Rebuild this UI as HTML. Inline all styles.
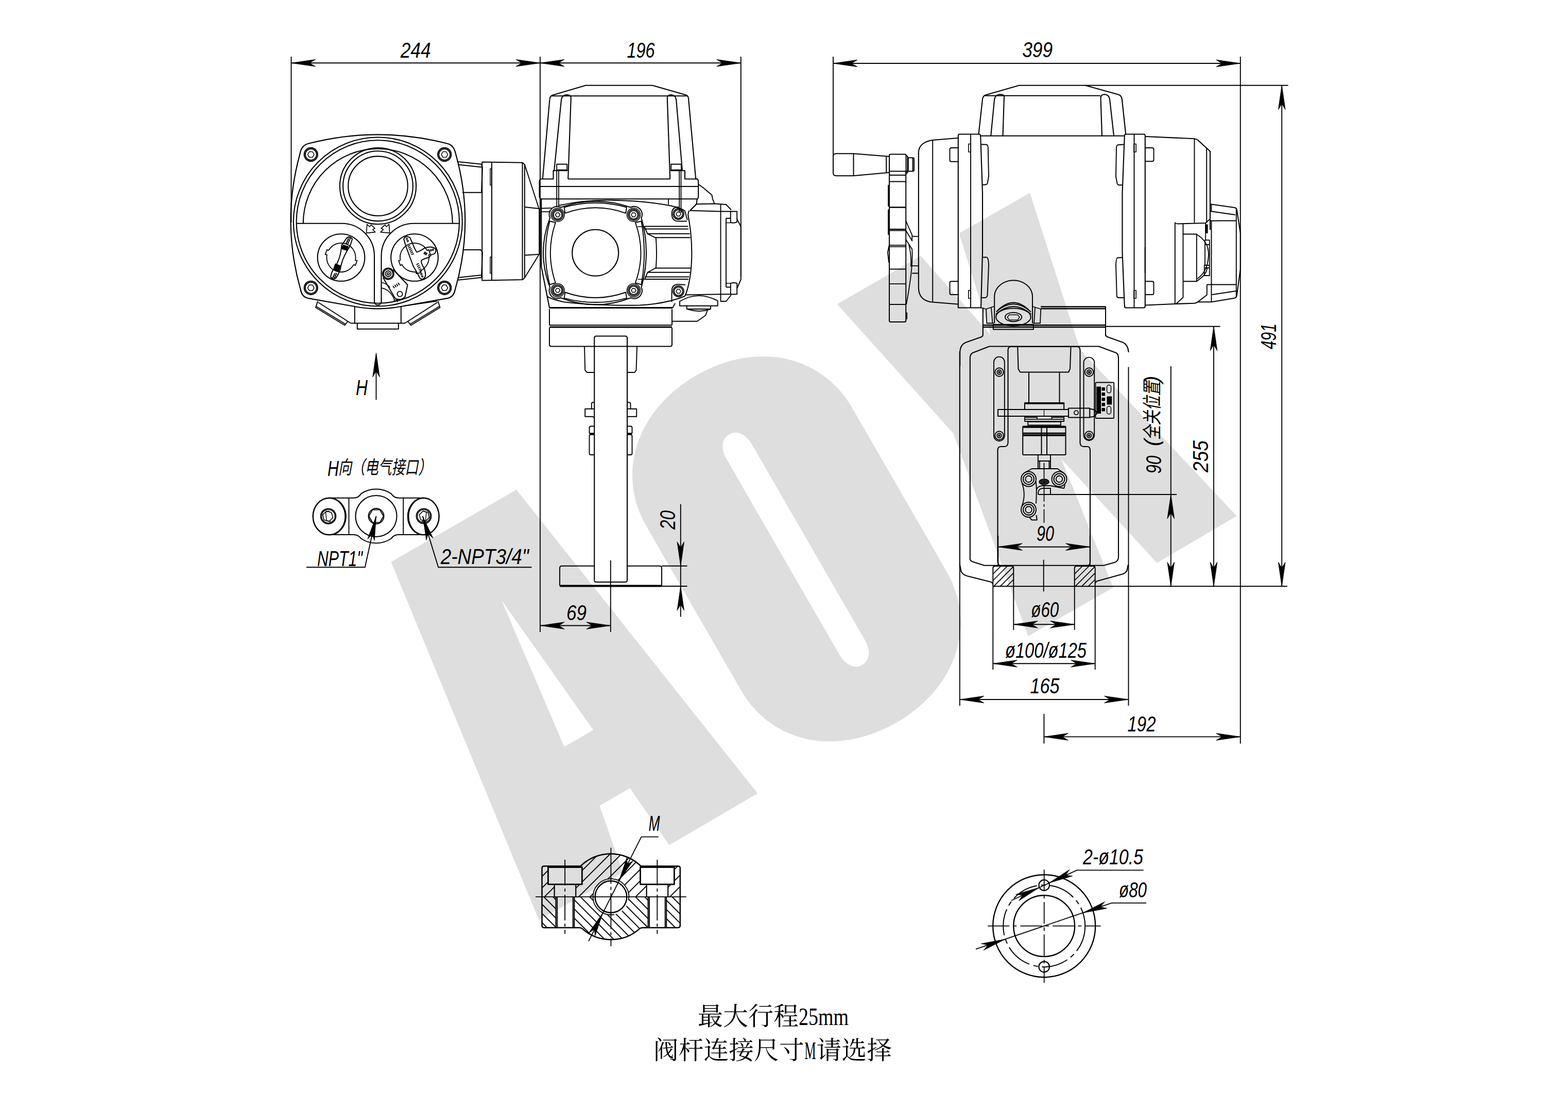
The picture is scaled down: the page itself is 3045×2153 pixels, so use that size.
<!DOCTYPE html>
<html><head><meta charset="utf-8"><title>Drawing</title>
<style>html,body{margin:0;padding:0;background:#fff;font-family:"Liberation Sans",sans-serif}svg{display:block}</style></head>
<body>
<svg xmlns="http://www.w3.org/2000/svg" width="3045" height="2153" viewBox="0 0 3045 2153" fill="none" stroke="#000" stroke-linecap="butt" stroke-linejoin="round">
<path d="M759.5 1091L1003 950.8L1471.3 1540.3L1299.6 1640.7L1223.3 1530L1164.3 1564.3L1209.7 1694L1046.6 1786.3ZM973.8 1165L1095.7 1449.7L1152.3 1417.3Z" fill="#dedede" fill-rule="evenodd" stroke="none"/>
<path transform="translate(1046.6 1786.3) rotate(-30)" d="M563 -558C563 -676.9 659.8 -763 793.5 -763C927.2 -763 1024 -676.9 1024 -558L1024 -190C1024 -71.1 927.2 15 793.5 15C659.8 15 563 -71.1 563 -190ZM763 -592C763 -616 774.4 -632 791.5 -632C808.6 -632 820 -616 820 -592L820 -155C820 -131 808.6 -115 791.5 -115C774.4 -115 763 -131 763 -155Z" fill="#dedede" fill-rule="evenodd" stroke="none"/>
<path d="M1625.8 590.5L1788 496.8L1923.8 650L1862.5 453L2000 374.5L2097.5 678.8L2401.7 1001.7L2246.7 1092.7L2061.2 891.2L2161.7 1140.7L1996.7 1235L1851.2 841.2Z" fill="#dedede" stroke="none"/>
<path d="M598.8 278.8Q733.8 243.8 868.8 278.8Q881.2 281.2 885 298.8Q922 430.5 883.8 562.5Q881.2 576.2 870 578.8L778.8 595Q733.8 603.8 688.8 595L597.5 578.8Q586.2 576.2 583.8 562.5Q546 430.5 582.5 298.8Q585 282.5 598.8 278.8Z" fill="none" stroke-width="2.2"/>
<circle cx="733.8" cy="430.5" r="164" fill="none" stroke-width="2.1"/>
<circle cx="733.8" cy="430.5" r="158.2" fill="none" stroke-width="2.1"/>
<path d="M588.8 433.8A145 145 0 1 1 878.8 433.8" fill="none" stroke-width="2.1"/>
<path d="M575.5 433.8H663.8A63.2 63.2 0 0 1 727 497V586.2A6.8 6.8 0 0 0 740.5 586.2V497A63.2 63.2 0 0 1 803.8 433.8H892" fill="none" stroke-width="2.1"/>
<circle cx="734" cy="361.2" r="74.1" fill="none" stroke-width="2.1"/>
<circle cx="734" cy="361.2" r="67.9" fill="none" stroke-width="2.1"/>
<circle cx="734" cy="361.2" r="57.8" fill="none" stroke-width="2.1"/>
<path d="M712.8 435.4L717.7 440.2L720.7 436.6L728 443.3L723.8 445.7L728.7 450.6L711.6 452.4Z" fill="none" stroke-width="1.6"/>
<path d="M755.5 435.4L750.6 440.2L747.6 436.6L740.2 443.3L744.5 445.7L739 450.6L756.7 452.4Z" fill="none" stroke-width="1.6"/>
<circle cx="662.5" cy="500" r="45.8" fill="none" stroke-width="2.1"/>
<circle cx="805" cy="500" r="45.8" fill="none" stroke-width="2.1"/>
<path d="M638 486.4A28 28 0 0 1 690 505.4L693.4 506L690 515.3L687 513.6M687 513.6A28 28 0 0 1 635 494.6L631.6 494L635 484.7L638 486.4" fill="none" stroke-width="1.8"/>
<path d="M832.5 494.6A28 28 0 0 1 816.4 525.6L817.8 528.8L808.3 531.3L807.9 527.9M807.9 527.9A28 28 0 0 1 780.5 513.6L777.5 515.3L774.1 506L777.5 505.4M777.5 505.4A28 28 0 0 1 829.5 486.4L832.5 484.7L835.9 494L832.5 494.6" fill="none" stroke-width="1.8"/>
<path d="M672 463.8Q678 455.5 684.1 463.8Q681.7 473.8 678 480.5Q663.4 503 661 522.6Q657.3 532.3 653.7 537.8Q648.2 545.1 642.1 537.8Q643.3 528.7 648.8 521.3Q661.6 503 663.4 476.2Q668.3 470.1 672 463.8Z" fill="none" stroke-width="2"/>
<path d="M666.5 475.6L676.2 478.7L673.2 486L663.4 482.9ZM651.2 512.2L661 515.9L657.3 526.8L647.6 523.2Z" fill="#000" stroke-width="1.5"/>
<ellipse cx="678" cy="463.8" rx="2.7" ry="1.5" fill="none" stroke-width="1.5" transform="rotate(-20 678 463.8)"/>
<ellipse cx="676.2" cy="467.7" rx="2.7" ry="1.5" fill="none" stroke-width="1.5" transform="rotate(-20 676.2 467.7)"/>
<ellipse cx="674.4" cy="471.6" rx="2.7" ry="1.5" fill="none" stroke-width="1.5" transform="rotate(-20 674.4 471.6)"/>
<ellipse cx="651.2" cy="532.3" rx="2.7" ry="1.5" fill="none" stroke-width="1.5" transform="rotate(-20 651.2 532.3)"/>
<ellipse cx="649.4" cy="536.2" rx="2.7" ry="1.5" fill="none" stroke-width="1.5" transform="rotate(-20 649.4 536.2)"/>
<ellipse cx="647.6" cy="539.6" rx="2.7" ry="1.5" fill="none" stroke-width="1.5" transform="rotate(-20 647.6 539.6)"/>
<path d="M784.1 464Q787.8 455.5 796.3 461.6L801.2 472.6Q806.1 486 809.8 489.6Q818.3 486 825.6 481.1Q837.8 477.4 845.1 482.3Q848.8 488.4 842.7 493.3Q836.6 493.3 834.1 499.4Q823.2 501.8 818.3 505.5Q817.1 510.4 823.2 520.1Q826.8 528.7 826.2 535.4Q823.2 544.5 815.9 540.9Q809.8 528.7 802.4 516.5Q797.6 503 793.9 493.3Q787.8 478.7 784.1 464Z" fill="none" stroke-width="2"/>
<path d="M796.3 476.3L791.5 478.6" stroke-width="1.9"/>
<path d="M797.8 479.5L792.9 481.7" stroke-width="1.9"/>
<path d="M799.3 482.7L794.4 484.9" stroke-width="1.9"/>
<path d="M800.7 485.8L795.9 488.1" stroke-width="1.9"/>
<path d="M802.2 489L797.3 491.2" stroke-width="1.9"/>
<path d="M803.7 492.2L798.8 494.4" stroke-width="1.9"/>
<path d="M825.9 488.6L822.9 493.1" stroke-width="1.9"/>
<path d="M827.7 489.8L824.7 494.3" stroke-width="1.9"/>
<path d="M829.5 491.1L826.6 495.5" stroke-width="1.9"/>
<path d="M813.4 511.7L808.5 513.9" stroke-width="1.9"/>
<path d="M814.9 515L810.1 517.3" stroke-width="1.9"/>
<path d="M816.5 518.4L811.6 520.6" stroke-width="1.9"/>
<path d="M818 521.8L813.1 524" stroke-width="1.9"/>
<path d="M819.5 525.1L814.6 527.3" stroke-width="1.9"/>
<circle cx="790" cy="463.4" r="1.5" fill="none" stroke-width="1.4"/>
<circle cx="791.7" cy="467.7" r="1.5" fill="none" stroke-width="1.4"/>
<circle cx="836.6" cy="486" r="1.5" fill="none" stroke-width="1.4"/>
<circle cx="840.9" cy="484.8" r="1.5" fill="none" stroke-width="1.4"/>
<circle cx="818.3" cy="532.3" r="1.5" fill="none" stroke-width="1.4"/>
<circle cx="820.1" cy="536.6" r="1.5" fill="none" stroke-width="1.4"/>
<circle cx="753.9" cy="531.5" r="11" fill="none" stroke-width="1.8"/>
<circle cx="753.9" cy="531.5" r="9.1" fill="none" stroke-width="1.8"/>
<circle cx="753.9" cy="531.5" r="5.5" fill="none" stroke-width="1.8"/>
<circle cx="753.9" cy="531.5" r="2.2" fill="none" stroke-width="1.8"/>
<path d="M743.9 539L767.1 578.7Q773.2 583.5 782.9 579.3L786.6 576.2L791.5 553L763.4 523.2" fill="none" stroke-width="2"/>
<circle cx="776.5" cy="570.7" r="5.1" fill="none" stroke-width="1.8"/>
<path d="M763.2 555L766.1 559.6" stroke-width="1.9"/>
<path d="M766.5 553L769.3 557.6" stroke-width="1.9"/>
<path d="M769.7 551L772.6 555.5" stroke-width="1.9"/>
<path d="M773 548.9L775.8 553.5" stroke-width="1.9"/>
<path d="M740.2 548.2Q750 549.4 757.3 557.9M741.5 559.1Q753.7 561.6 761 572.6T764.6 586M764.6 582.3H772V586.6" fill="none" stroke-width="1.6"/>
<circle cx="603.8" cy="300" r="13.2" fill="none" stroke-width="1.9"/>
<circle cx="603.8" cy="300" r="11" fill="none" stroke-width="1.9"/>
<polygon points="610,300 606.9,305.4 600.6,305.4 597.5,300 600.6,294.6 606.9,294.6" stroke-width="1.5"/>
<circle cx="863.2" cy="300" r="13.2" fill="none" stroke-width="1.9"/>
<circle cx="863.2" cy="300" r="11" fill="none" stroke-width="1.9"/>
<polygon points="869.5,300 866.4,305.4 860.1,305.4 857,300 860.1,294.6 866.4,294.6" stroke-width="1.5"/>
<circle cx="603.8" cy="558.8" r="13.2" fill="none" stroke-width="1.9"/>
<circle cx="603.8" cy="558.8" r="11" fill="none" stroke-width="1.9"/>
<polygon points="610,558.8 606.9,564.2 600.6,564.2 597.5,558.8 600.6,553.3 606.9,553.3" stroke-width="1.5"/>
<circle cx="863.2" cy="558.8" r="13.2" fill="none" stroke-width="1.9"/>
<circle cx="863.2" cy="558.8" r="11" fill="none" stroke-width="1.9"/>
<polygon points="869.5,558.8 866.4,564.2 860.1,564.2 857,558.8 860.1,553.3 866.4,553.3" stroke-width="1.5"/>
<path d="M688.8 595V627.5M778.8 595V627.5M681.2 627.5H786.2M693.8 627.5V638.8H773.8V627.5" fill="none" stroke-width="2"/>
<path d="M617 584.5L613 597L669.5 631.5L675 624.5M618 587L681.2 627.5M614.5 595L670.5 629" fill="none" stroke-width="1.9"/>
<path d="M850.5 584.5L854.5 597L798 631.5L792.5 624.5M849.5 587L786.2 627.5M853 595L797 629" fill="none" stroke-width="1.9"/>
<path d="M785 593.8L848.8 584.5" fill="none" stroke-width="1.8"/>
<path d="M887.5 313.8L935 318.8L936.8 325L935 373.8H898M889 319.5L935.2 324.5" fill="none" stroke-width="2"/>
<path d="M898.8 485H933.8L936.8 490L935 538.8L888.8 543.8M935.2 534L889.5 539" fill="none" stroke-width="2"/>
<path d="M936.2 314.5L1015 315.8L1018.8 319.5V539.5L1015 543L936.2 544.5ZM955 315V544M1014.5 316V542.8" fill="none" stroke-width="2"/>
<path d="M952 327.5H954.5V359.5H952ZM952 498.8H954.5V530.5H952Z" fill="none" stroke-width="1.5"/>
<path d="M1019 320L1046.2 403.8M1018.8 402L1047.2 405V493.8L1018.8 495.5M1019 539L1046.2 495" fill="none" stroke-width="1.9"/>
<path d="M1067.5 192.5Q1068 186.2 1073.8 184.5L1137.5 165.8H1267L1332.5 184.5Q1336.5 186.2 1337 191.2" fill="none" stroke-width="2.1"/>
<path d="M1067.5 192.5L1053.8 347.5M1337 191.2L1351.2 347.5" fill="none" stroke-width="2.1"/>
<path d="M1071.2 186.2H1333.8" fill="none" stroke-width="2.1"/>
<path d="M1076.2 331.2L1090 193.8Q1091.2 184.5 1100.5 184Q1108.8 184 1108.8 190L1103.2 347.5" fill="none" stroke-width="2.1"/>
<path d="M1325 331.2L1313.2 193.8Q1312 184.5 1303.8 184Q1295.8 184 1295.8 190L1301.2 347.5" fill="none" stroke-width="2.1"/>
<path d="M1103.2 347.5H1301.2" fill="none" stroke-width="2.1"/>
<path d="M1081.2 318.8H1101.2V330H1081.2ZM1303.2 318.8H1323V330H1303.2Z" fill="none" stroke-width="1.9"/>
<path d="M1051.2 347.5H1074.5V331.2H1102.5M1302 331.2H1330V347.5H1355" fill="none" stroke-width="2.1"/>
<path d="M1051.2 347.5Q1047.5 348 1047.5 352.5V380Q1047.5 386.2 1051.2 386.2H1353.8Q1356.2 386.2 1356.2 380V352.5Q1356.2 348 1352.5 347.5" fill="none" stroke-width="2.1"/>
<path d="M1047.5 362H1356.2" fill="none" stroke-width="2.1"/>
<path d="M1081.2 331.2V400M1085 331.2V401.2M1319.2 331.2V412.5M1322.5 331.2V413" fill="none" stroke-width="1.8"/>
<path d="M1051.2 386.2V517.5L1067 597.5" fill="none" stroke-width="2.1"/>
<path d="M1353.8 386.2L1352.5 396.2L1340 408.8" fill="none" stroke-width="2.1"/>
<path d="M1298 386.2V397.5" fill="none" stroke-width="1.8"/>
<path d="M1051.2 404.5L1071.2 403.8M1051.2 411.2H1068.8" fill="none" stroke-width="1.8"/>
<path d="M1086.2 398.8Q1135 387.5 1190 388.8Q1255 390 1305 400Q1322.5 403.8 1330 409.5L1334.8 427.2" fill="none" stroke-width="1.9"/>
<path d="M1356.2 357.5L1366.2 365L1382.5 378.8L1383.8 386.2L1387.5 395.5" fill="none" stroke-width="1.9"/>
<path d="M1068 423A15.5 15.5 0 0 1 1089 402.5Q1156.8 379 1224.5 402.5A15.5 15.5 0 0 1 1245.5 423Q1264.5 490.2 1245.5 557.8A15.5 15.5 0 0 1 1224.5 578.2Q1156.8 604.8 1089 578.2A15.5 15.5 0 0 1 1068 557.8Q1042 490.2 1068 423Z" fill="none" stroke-width="2"/>
<path d="M1095.5 402.5Q1156.2 385 1217 402.5L1215 413.8Q1156.2 392.8 1097.5 413.8Z" fill="none" stroke-width="1.9"/>
<path d="M1095.5 578.8Q1156.2 595.2 1217 578.8L1215 567.5Q1156.2 588.5 1097.5 567.5Z" fill="none" stroke-width="1.9"/>
<path d="M1067.5 429.5Q1051.5 490.8 1067.5 552.5L1078.8 549.2Q1058.8 490.8 1078.8 432Z" fill="none" stroke-width="1.9"/>
<path d="M1245.5 429.5Q1256.5 490.8 1245.5 552.5L1233.8 549.2Q1255.2 490.8 1233.8 432Z" fill="none" stroke-width="1.9"/>
<circle cx="1083" cy="417" r="13" fill="none" stroke-width="1.6"/>
<circle cx="1230.5" cy="417" r="13" fill="none" stroke-width="1.6"/>
<circle cx="1083" cy="563.8" r="13" fill="none" stroke-width="1.6"/>
<circle cx="1230.5" cy="563.8" r="13" fill="none" stroke-width="1.6"/>
<circle cx="1083" cy="417" r="10.5" fill="none" stroke-width="1.8"/>
<circle cx="1083" cy="417" r="8.2" fill="none" stroke-width="1.8"/>
<polygon points="1087.5,417 1085.2,420.9 1080.8,420.9 1078.5,417 1080.8,413.1 1085.2,413.1" stroke-width="1.5"/>
<circle cx="1230.5" cy="417" r="10.5" fill="none" stroke-width="1.8"/>
<circle cx="1230.5" cy="417" r="8.2" fill="none" stroke-width="1.8"/>
<polygon points="1235,417 1232.8,420.9 1228.2,420.9 1226,417 1228.2,413.1 1232.8,413.1" stroke-width="1.5"/>
<circle cx="1083" cy="563.8" r="10.5" fill="none" stroke-width="1.8"/>
<circle cx="1083" cy="563.8" r="8.2" fill="none" stroke-width="1.8"/>
<polygon points="1087.5,563.8 1085.2,567.6 1080.8,567.6 1078.5,563.8 1080.8,559.9 1085.2,559.9" stroke-width="1.5"/>
<circle cx="1230.5" cy="563.8" r="10.5" fill="none" stroke-width="1.8"/>
<circle cx="1230.5" cy="563.8" r="8.2" fill="none" stroke-width="1.8"/>
<polygon points="1235,563.8 1232.8,567.6 1228.2,567.6 1226,563.8 1228.2,559.9 1232.8,559.9" stroke-width="1.5"/>
<circle cx="1317.5" cy="415.5" r="10.5" fill="none" stroke-width="1.8"/>
<circle cx="1317.5" cy="415.5" r="8.2" fill="none" stroke-width="1.8"/>
<polygon points="1322,415.5 1319.8,419.4 1315.2,419.4 1313,415.5 1315.2,411.6 1319.8,411.6" stroke-width="1.5"/>
<circle cx="1317.5" cy="565.5" r="10.5" fill="none" stroke-width="1.8"/>
<circle cx="1317.5" cy="565.5" r="8.2" fill="none" stroke-width="1.8"/>
<polygon points="1322,565.5 1319.8,569.4 1315.2,569.4 1313,565.5 1315.2,561.6 1319.8,561.6" stroke-width="1.5"/>
<circle cx="1156.2" cy="490.8" r="45" fill="none" stroke-width="2.1"/>
<path d="M1317.5 402Q1304.5 402 1304.5 415.5Q1305 429.5 1317.5 429.5L1333.8 429.5" fill="none" stroke-width="1.9"/>
<path d="M1317.5 552Q1304.5 552 1304.5 565.5V586.2" fill="none" stroke-width="1.9"/>
<path d="M1317.5 552L1331.2 553" fill="none" stroke-width="1.8"/>
<path d="M1251.2 439.5H1336.2M1252 444.5H1337M1257.5 453.8H1339.5M1272.5 461.2H1340.5M1272.5 520.5H1341.2M1257.5 528.8H1340M1252.5 537.5H1338M1252 542H1337" fill="none" stroke-width="1.9"/>
<path d="M1251.2 440L1257.5 453.8L1273.8 462Q1276.2 490.8 1273.8 520L1257.5 528.8L1252.5 541.2" fill="none" stroke-width="1.9"/>
<path d="M1237.5 440L1251.2 440M1238.8 542.5L1252 542" fill="none" stroke-width="1.6"/>
<path d="M1338.5 408.8Q1336.5 412.5 1336.2 417Q1339 432.5 1341.2 450Q1345.5 490.8 1341.2 530Q1337 560 1330 575" fill="none" stroke-width="2"/>
<path d="M1340 408.8L1400 410.5H1420M1340 408.8L1352.5 396.2L1387.5 395.5L1410 397L1420 407.5M1399.5 396.5V585H1410L1420 572.5M1410 423.8V557.5M1410 423.8H1418.8M1410 557.5H1418.8" fill="none" stroke-width="1.9"/>
<path d="M1418.8 410.5H1431.2V431.2Q1425 433.8 1418.8 432ZM1418.8 550Q1425 548 1431.2 550V571.2H1418.8Z" fill="none" stroke-width="1.9"/>
<path d="M1410 432.5H1418.8M1410 550H1418.8" fill="none" stroke-width="1.6"/>
<path d="M1431.2 425L1438.8 440V542.5L1431.2 560" fill="none" stroke-width="1.9"/>
<path d="M1330 572.5L1400 571.2H1418.8" fill="none" stroke-width="1.9"/>
<path d="M1062.5 575Q1067.5 580 1095 586.2Q1155 593.8 1242.5 592.5Q1292.5 590 1330 575" fill="none" stroke-width="1.9"/>
<path d="M1067 597.5H1306.2" fill="none" stroke-width="3.2"/>
<path d="M1067 600V631.2M1305 600V631.2M1067 631.2H1305" fill="none" stroke-width="2"/>
<path d="M1067 635H1305" fill="none" stroke-width="3.2"/>
<path d="M1067 636.2V668.8Q1067 672.5 1070.8 672.5H1301.2Q1305 672.5 1305 668.8V636.2" fill="none" stroke-width="2"/>
<path d="M1306.2 597.5L1311.2 588.8M1305 623.8H1353.8L1370 612.5L1373.8 602.5" fill="none" stroke-width="1.9"/>
<path d="M1320 593.8V585Q1355 563.8 1393.8 583.8V593.8ZM1333.8 593.8V600H1380V593.8M1336.2 600.5Q1357.5 607.5 1378.8 600.5" fill="none" stroke-width="1.9"/>
<path d="M1154.2 1126.2V656.2Q1154.2 652.5 1158 652.5H1214.2Q1218 652.5 1218 656.2V1126.2" fill="none" stroke-width="2.1"/>
<path d="M1135 673L1136.2 718.8L1140 723H1154.2M1237 673L1235.5 718.8L1232.5 723H1218" fill="none" stroke-width="1.9"/>
<path d="M1154.2 1126.2Q1154.2 1130 1158 1130H1214.2Q1218 1130 1218 1126.2" fill="none" stroke-width="2.1"/>
<path d="M1154.2 793.8H1136.2V808.8H1151.2L1154.2 811.2M1154.2 781.2H1151.2Q1148.8 781.2 1148.8 784.5V793.8" fill="none" stroke-width="1.9"/>
<path d="M1218 793.8H1236.2V808.8H1218M1218 781.2H1221.2Q1224.5 781.2 1224.5 784.5V793.8" fill="none" stroke-width="1.9"/>
<path d="M1154.2 827.5H1147.5Q1144.5 827.5 1144.5 830.5V840Q1144.5 842.5 1147.5 842.5H1154.2M1154.2 843.8H1147.5Q1144.5 843.8 1144.5 846.8V880Q1144.5 883 1147.5 883H1154.2M1145.5 841.2H1154.2" fill="none" stroke-width="1.9"/>
<path d="M1218 827.5H1224.5Q1227.5 827.5 1227.5 830.5V840Q1227.5 842.5 1224.5 842.5H1218M1218 843.8H1224.5Q1227.5 843.8 1227.5 846.8V880Q1227.5 883 1224.5 883H1218M1218 841.2H1227" fill="none" stroke-width="1.9"/>
<path d="M1154.2 1098.8H1091.2Q1087 1098.8 1087 1103V1137M1218 1098.8H1281.2Q1285 1099.2 1285 1103V1137.5" fill="none" stroke-width="2"/>
<path d="M1087 1137.5H1285" fill="none" stroke-width="3.8"/>
<path d="M1900.5 260.5L1908 192.5Q1908.8 186.2 1913.8 184.5L1979.2 165.8H2106.5" fill="none" stroke-width="2.1"/>
<path d="M2107.5 165.8L2172.5 183.8Q2178 186.2 2178.8 192.5L2186.2 260.5" fill="none" stroke-width="2.1"/>
<path d="M1912 185.8H2136.8" fill="none" stroke-width="2.1"/>
<path d="M1924.2 263.8L1931.2 192.5Q1933 183.8 1941.2 183.2Q1950 183.2 1950 187.5L1947.5 263.8" fill="none" stroke-width="2.1"/>
<path d="M2140 263.8L2137.5 190Q2137.5 183.2 2145.5 183.2Q2153.5 183.8 2155 192.5L2163 263.8" fill="none" stroke-width="2.1"/>
<path d="M1904.2 263.8H2183" fill="none" stroke-width="2.1"/>
<path d="M1783.8 295Q1785 276.2 1811.2 272L1860 268" fill="none" stroke-width="2.1"/>
<path d="M1783.8 295L1783.8 560" stroke-width="2.1"/>
<path d="M1783.8 560Q1785 582.5 1807.5 586.2L1860 590.5" fill="none" stroke-width="2.1"/>
<path d="M1811.2 272L1811.2 585.8" stroke-width="1.9"/>
<path d="M1860.8 597.5V263.8Q1860.8 260.5 1863.8 260.5H1901.2Q1904 260.5 1904.2 263.8L1908 375V490L1905 597.5Z" fill="none" stroke-width="2.1"/>
<path d="M1885 260.5L1885 597.5" stroke-width="1.9"/>
<path d="M1860.8 287H1847.5Q1844.5 287 1844.5 290V310.8Q1844.5 313.8 1847.5 313.8H1860.8" fill="none" stroke-width="1.9"/>
<path d="M1860.8 546.2H1847.5Q1844.5 546.2 1844.5 549.2V569Q1844.5 572 1847.5 572H1860.8" fill="none" stroke-width="1.9"/>
<path d="M1880.8 279.5H1885V295H1880.8Z" fill="none" stroke-width="1.6"/>
<path d="M1880.8 563.8H1885V579.2H1880.8Z" fill="none" stroke-width="1.6"/>
<path d="M1905.5 280.5H1915Q1918.8 281.2 1918.8 287.5L1920 342.5L1917.5 356.2Q1916.2 358.8 1912.5 358.8H1908" fill="none" stroke-width="1.9"/>
<path d="M1908 499.5H1916.2Q1919.5 500 1920 515L1917.5 573.8Q1916.2 578 1912.5 578H1904.5" fill="none" stroke-width="1.9"/>
<path d="M2183.8 263.8Q2183.8 260.5 2186.8 260.5H2220.8Q2223.8 260.5 2223.8 263.8" fill="none" stroke-width="2.1"/>
<path d="M2183.8 263.8L2179.5 375M2223.8 263.8V530" fill="none" stroke-width="2.1"/>
<path d="M2179.5 375V490L2183.8 594.5Q2184.2 597.5 2187 597.5H2220.8Q2223.8 597.5 2223.8 594.5V480" fill="none" stroke-width="2.1"/>
<path d="M2202.5 260.5L2202.5 597.5" stroke-width="1.9"/>
<path d="M2182.5 280.5L2171.2 281.2Q2168 282 2168 287.5L2167 342.5L2169.5 356.2Q2170.5 359.2 2173.8 359.2H2179.5" fill="none" stroke-width="1.9"/>
<path d="M2179.5 500L2170 500.5Q2167.5 501.2 2167 515L2168.8 575Q2169.5 578 2172.5 578H2182.5" fill="none" stroke-width="1.9"/>
<path d="M2224.2 287H2237.5Q2240.5 287 2240.5 290V310.2Q2240.5 313.2 2237.5 313.2H2224.2" fill="none" stroke-width="1.9"/>
<path d="M2224.2 546.2H2237.5Q2240.5 546.2 2240.5 549.2V569Q2240.5 572 2237.5 572H2224.2" fill="none" stroke-width="1.9"/>
<path d="M2202 279.5H2206.2V295H2202Z" fill="none" stroke-width="1.6"/>
<path d="M2202 563.8H2206.2V579.2H2202Z" fill="none" stroke-width="1.6"/>
<path d="M2224.2 265L2318.8 269.2Q2323.8 270 2326.2 272L2350 293.8V446.2" fill="none" stroke-width="2.1"/>
<path d="M2319.5 269.2L2319.5 432.5" stroke-width="1.9"/>
<path d="M2343.2 287.5L2343.2 432.5" stroke-width="1.9"/>
<path d="M2224.2 592.5L2281.2 590L2320 588.8L2325 587L2343.8 572.5" fill="none" stroke-width="2.1"/>
<path d="M2350 396.2L2397.5 403Q2401.2 403.8 2401.8 407L2408.8 452.5V522.5L2401.8 573.8Q2400.8 578 2397.5 578.8L2352.5 586.2H2325" fill="none" stroke-width="2"/>
<path d="M2350 410L2398.8 417M2352.5 396.8V410.5M2350 428.8L2400 428.2M2352.5 428.8V586.2M2400.8 406.2V577.5M2343.8 552.5H2400M2400 565L2353.8 572M2343.8 552.5V572.5M2350 396.2V428.8" fill="none" stroke-width="1.9"/>
<path d="M2281.8 590V432.5L2286.2 434.5L2341.2 433L2350 425M2297.5 435V577.5L2283.8 590M2297.5 454.5H2323.8V546.2H2297.5" fill="none" stroke-width="1.9"/>
<path d="M2323.8 455Q2348.8 470 2346.8 497.5Q2345 527.5 2325 541.2M2323.8 546.2L2335 537.5Q2343 530 2344.5 520" fill="none" stroke-width="1.8"/>
<path d="M2340 466.2H2348.8V475H2340ZM2340 475V515M2348.8 475V515M2338.8 515H2348.8V535H2338.8ZM2340 520H2348.8M2341.2 433V466.2" fill="none" stroke-width="1.8"/>
<path d="M2341.2 436.2H2345V452.5H2341.2Z" fill="#000" stroke-width="1.2"/>
<path d="M1657.5 298.2H1623.8Q1618 298.2 1618 303.8V335.5Q1618 341.2 1623.8 341.2H1657.5L1726.2 335M1657.5 298.2L1726.2 303.8M1657.5 298.2V341.2M1721.2 303.2V335.5" fill="none" stroke-width="2"/>
<path d="M1729 299.5H1757.5Q1759.5 299.5 1759.5 301.5V338Q1759.5 340 1757.5 340H1729Q1727 340 1727 338V301.5Q1727 299.5 1729 299.5ZM1727 332.5H1762.5M1759.5 301.2L1762.5 303.8V335L1759.5 337.5" fill="none" stroke-width="2"/>
<path d="M1763.8 306.2H1772.5Q1775 306.2 1775 308.8V330Q1775 332.5 1772.5 332.5H1763.8ZM1772.5 306.2V332.5" fill="none" stroke-width="1.9"/>
<path d="M1727 332.5V622.5Q1727 625 1729.5 625H1756.8Q1759.2 625 1759.2 622.5V332.5" fill="none" stroke-width="2"/>
<path d="M1727 340L1759.2 340" stroke-width="1.8"/>
<path d="M1727 402.5L1759.2 402.5" stroke-width="1.8"/>
<path d="M1727 445L1759.2 445" stroke-width="1.8"/>
<path d="M1727 447.5L1759.2 447.5" stroke-width="1.8"/>
<path d="M1727 476.2L1759.2 476.2" stroke-width="1.8"/>
<path d="M1727 478.8L1759.2 478.8" stroke-width="1.8"/>
<path d="M1727 522.5L1759.2 522.5" stroke-width="1.8"/>
<path d="M1727 551.2L1759.2 551.2" stroke-width="1.8"/>
<path d="M1727 591.2L1759.2 591.2" stroke-width="1.8"/>
<path d="M1727 355Q1727 352.5 1729.5 352.5H1756.8Q1759.2 352.5 1759.2 355M1727 405Q1727 402.5 1729.5 402.5H1756.8Q1759.2 402.5 1759.2 405M1727 588.8Q1727 591.2 1729.5 591.2H1756.8Q1759.2 591.2 1759.2 588.8" fill="none" stroke-width="1.8"/>
<path d="M1727 360H1725V400H1727M1727 407.5H1725V455H1727M1727 475L1723.8 490L1726.2 510M1759.2 607.5H1761.2V618.8H1759.2" fill="none" stroke-width="1.8"/>
<path d="M1759.2 428.8L1771.2 456.2V467.5L1759.2 447.5M1759.2 465L1771.2 483.8Q1773.8 517.5 1760 591.2M1771.2 458.8H1783.2M1771.2 516.2H1783.2M1771.2 530.5H1783.2M1765 475Q1770.5 497.5 1768.8 517.5" fill="none" stroke-width="1.8"/>
<path d="M1931.2 627.5V573.8A37 32 0 0 1 2005 573.8V627.5" fill="none" stroke-width="2"/>
<ellipse cx="1968" cy="615.5" rx="33.8" ry="17" fill="none" stroke-width="2"/>
<ellipse cx="1968" cy="615.5" rx="16.2" ry="8.8" fill="none" stroke-width="1.9"/>
<path d="M1960 611.2H1976.2L1980 615.5L1976.2 621.2H1960L1956.2 615.5Z" fill="none" stroke-width="1.5"/>
<path d="M1934.5 605.5Q1968 575 2002 605.5M1933.8 610Q1968 580 2002.5 610M1936.2 603.8Q1968 571.2 2000 603.8" fill="none" stroke-width="1.9"/>
<path d="M1928.8 630H2007V639.5H1928.8Z" fill="none" stroke-width="1.9"/>
<path d="M1905 597.5L1915 600L1930 595M1915 600L1916.2 627.5H1930M2005 595L2021.2 600L2020 627.5H2006.2M1925 597.5L1927.5 627.5M2010 597.5L2008 627.5" fill="none" stroke-width="1.8"/>
<path d="M2021.2 595.5H2147M2021.2 599.2H2147M1908.8 631.2H2147M1908.8 635H2147" fill="none" stroke-width="2.5"/>
<path d="M2147 595L2147 650" stroke-width="2"/>
<path d="M1908.8 597.5V650Q1908.8 653 1905.5 654.2L1875 665Q1865 669.5 1864.2 682.5V710" fill="none" stroke-width="2.1"/>
<path d="M1863.8 682.5L1863.8 1097.5" stroke-width="2.1"/>
<path d="M2147 640V650Q2147.5 653 2151.2 654.2L2181.2 665Q2190 668.8 2191.8 683.8" fill="none" stroke-width="2.1"/>
<path d="M1883.8 1083.8V693.8Q1884.5 687.5 1888.8 685L1921.2 672.5H2133.8L2167.5 685Q2171.5 687.5 2172 693.8V1083.8" fill="none" stroke-width="2.1"/>
<path d="M1937.5 1092.5V873.8Q1938 867.5 1942.5 867H1951.2Q1957 866.2 1957.5 860V680Q1957.5 673.8 1962.5 673H2092.5Q2097.5 673.8 2097.5 680V860Q2098 866.2 2103.8 867H2112.5Q2116.5 867.5 2117 873.8V1092.5" fill="none" stroke-width="2.1"/>
<path d="M1930 703A10.4 10.4 0 0 1 1950.8 703V845.8A10.4 10.4 0 0 1 1930 845.8Z" fill="none" stroke-width="1.9"/>
<path d="M2104.5 703A10.4 10.4 0 0 1 2125.2 703V845.8A10.4 10.4 0 0 1 2104.5 845.8Z" fill="none" stroke-width="1.9"/>
<circle cx="1940.5" cy="722.5" r="8.2" fill="none" stroke-width="1.9"/>
<circle cx="1940.5" cy="722.5" r="4.2" fill="none" stroke-width="1.9"/>
<circle cx="1940.5" cy="722.5" r="1.5" fill="#000" stroke-width="1.5"/>
<circle cx="1940.5" cy="845.5" r="8.2" fill="none" stroke-width="1.9"/>
<circle cx="1940.5" cy="845.5" r="4.2" fill="none" stroke-width="1.9"/>
<circle cx="1940.5" cy="845.5" r="1.5" fill="#000" stroke-width="1.5"/>
<circle cx="2115" cy="722.5" r="8.2" fill="none" stroke-width="1.9"/>
<circle cx="2115" cy="722.5" r="4.2" fill="none" stroke-width="1.9"/>
<circle cx="2115" cy="722.5" r="1.5" fill="#000" stroke-width="1.5"/>
<circle cx="2115" cy="845.5" r="8.2" fill="none" stroke-width="1.9"/>
<circle cx="2115" cy="845.5" r="4.2" fill="none" stroke-width="1.9"/>
<circle cx="2115" cy="845.5" r="1.5" fill="#000" stroke-width="1.5"/>
<path d="M1976.2 673L1977.5 716.2L1981.2 722.5H2075L2078 716.2L2079.5 673M1998 723.8V782M2057.5 723.8V782" fill="none" stroke-width="2"/>
<path d="M1990 795V782H2066.2V795" fill="none" stroke-width="2"/>
<path d="M1990 783.2L2066.2 783.2" stroke-width="3.2"/>
<path d="M1938 795H2075V808H1938Z" fill="none" stroke-width="2"/>
<path d="M2027.5 795L2027.5 808" stroke-width="1.2"/>
<path d="M2075 792.5H2116.2V810.5H2075ZM2116.2 793.8L2123.8 795L2131.2 802L2123.8 808.8L2116.2 810" fill="none" stroke-width="2"/>
<circle cx="2090" cy="801.2" r="4" fill="none" stroke-width="1.8"/>
<path d="M2129.5 742.5H2161.2Q2163.2 742.5 2163.2 744.5V810Q2163.2 812 2161.2 812H2129.5Q2127.5 812 2127.5 810V744.5Q2127.5 742.5 2129.5 742.5Z" fill="none" stroke-width="1.8"/>
<path d="M2130 751.2H2137.5V802.5H2130Z" fill="#000" stroke-width="1.2"/>
<path d="M2140 752.5H2145.5V758H2140Z" fill="#000" stroke-width="1"/>
<path d="M2140 762.5H2145.5V768H2140Z" fill="#000" stroke-width="1"/>
<path d="M2140 772.5H2145.5V778H2140Z" fill="#000" stroke-width="1"/>
<path d="M2140 782.5H2145.5V788H2140Z" fill="#000" stroke-width="1"/>
<path d="M2140 792.5H2145.5V798H2140Z" fill="#000" stroke-width="1"/>
<path d="M2150 770H2158.8V785H2150Z" fill="#000" stroke-width="1"/>
<path d="M2149.5 751.5A4 4 0 0 1 2157.5 751.5V758.8A4 4 0 0 1 2149.5 758.8Z" fill="none" stroke-width="1.5"/>
<path d="M2149.5 792.8A4 4 0 0 1 2157.5 792.8V800A4 4 0 0 1 2149.5 800Z" fill="none" stroke-width="1.5"/>
<path d="M1990 810H2013.8V813.8H1990ZM2042.5 810H2066.2V813.8H2042.5ZM1990 813.8H2066.2V818H1990ZM1996.2 818.8H2060V825.5H1996.2Z" fill="none" stroke-width="1.8"/>
<path d="M1987.8 827.5H2068Q2069.5 827.5 2069.5 829V881.5Q2069.5 883 2068 883H1987.8Q1986.2 883 1986.2 881.5V829Q1986.2 827.5 1987.8 827.5ZM2022.5 827.5V883M2033 827.5V883" fill="none" stroke-width="2"/>
<path d="M1986.2 829.2L2069.5 829.2" stroke-width="3.2"/>
<path d="M1986.2 841.2L2069.5 841.2" stroke-width="2.8"/>
<path d="M1986.2 845L2069.5 845" stroke-width="3.5"/>
<path d="M2015.8 883.8V910M2040 883.8V910M2015.8 895H2040M2018.8 895V910M2037.5 895V910" fill="none" stroke-width="1.9"/>
<circle cx="1997.5" cy="930" r="14.5" fill="none" stroke-width="1.9"/>
<circle cx="1997.5" cy="930" r="10.5" fill="none" stroke-width="1.9"/>
<circle cx="1997.5" cy="930" r="6.2" fill="none" stroke-width="1.9"/>
<circle cx="2057" cy="930" r="14.5" fill="none" stroke-width="1.9"/>
<circle cx="2057" cy="930" r="10.5" fill="none" stroke-width="1.9"/>
<circle cx="2057" cy="930" r="6.2" fill="none" stroke-width="1.9"/>
<circle cx="1997.5" cy="989.5" r="14.5" fill="none" stroke-width="1.9"/>
<circle cx="1997.5" cy="989.5" r="10.5" fill="none" stroke-width="1.9"/>
<circle cx="1997.5" cy="989.5" r="6.2" fill="none" stroke-width="1.9"/>
<ellipse cx="2027.5" cy="935.5" rx="9.5" ry="5.5" fill="#222" stroke-width="1.5"/>
<path d="M1990 917.5L2003.8 910H2053.8L2066.2 918.8M1984.5 937.5Q1993 960 1984.5 982.5M2011.5 933.8Q2013.8 948.8 2012 977.5M2012.5 952.5Q2013 944.5 2023.8 943H2040L2066.2 948L2068 941.2M2016.2 960V955.5Q2016.8 949.5 2023.8 948H2040V960M2012.5 1000L2013.8 1009.5H2003.8L1999.5 1005" fill="none" stroke-width="1.9"/>
<path d="M2016.2 960L2285 960" stroke-width="1.8"/>
<path d="M2027.5 898.8V1015" stroke-width="1.7" stroke-dasharray="30 5 5 5"/>
<path d="M1864 1096.7L1866.7 1110Q1870 1116 1878.3 1118.3L1925 1130L1928.3 1133.3M2190.7 1096.7L2188.3 1108.3Q2185 1113.3 2178.3 1115L2130 1128.3L2126.7 1131.7" fill="none" stroke-width="2.1"/>
<path d="M1883.3 1083.3Q1884 1089.3 1890 1091L1911.7 1097.7H1938.3M2171.7 1083.3Q2171 1089.3 2165 1091.7L2143.3 1097.7H2116.7" fill="none" stroke-width="2.1"/>
<path d="M1938.3 1093.3Q1939 1097.7 1943.3 1097.7H2111.7Q2116 1097.7 2116.7 1093.3" fill="none" stroke-width="2.1"/>
<path d="M1928.3 1138.3V1103.3Q1928.3 1099 1932.7 1099H1964Q1968.3 1099 1968.3 1103.3V1138.3" fill="none" stroke-width="2"/>
<path d="M1928.3 1101.7L1931 1099M1928.3 1114.3L1943.7 1099M1928.3 1127L1956.3 1099M1929.7 1138.3L1968.3 1099.7M1942.3 1138.3L1968.3 1112.3M1955 1138.3L1968.3 1125" fill="none" stroke-width="1.7"/>
<path d="M2086.7 1138.3V1103.3Q2086.7 1099 2091 1099H2122.3Q2126.7 1099 2126.7 1103.3V1138.3" fill="none" stroke-width="2"/>
<path d="M2086.7 1101.7L2089.3 1099M2086.7 1114.3L2102 1099M2086.7 1127L2114.7 1099M2088 1138.3L2126.7 1099.7M2100.7 1138.3L2126.7 1112.3M2113.3 1138.3L2126.7 1125" fill="none" stroke-width="1.7"/>
<path d="M1928.3 1138.3L2500 1138.3" stroke-width="1.9"/>
<path d="M565.5 110L565.5 432" stroke-width="1.9"/>
<path d="M1048.9 110L1048.9 1227" stroke-width="1.9"/>
<path d="M1438.8 110L1438.8 537" stroke-width="1.9"/>
<path d="M565.5 122.3L1048.9 122.3" stroke-width="1.9"/>
<polygon points="565.5,122.3 612.5,129.1 601.2,122.3 612.5,115.5" fill="#000" stroke-width="0.8"/>
<polygon points="1048.9,122.3 1001.9,115.5 1013.2,122.3 1001.9,129.1" fill="#000" stroke-width="0.8"/>
<text x="807.2" y="111.5" font-family="'Liberation Sans', sans-serif" font-size="42" font-style="italic" fill="#000" stroke="none" text-anchor="middle" textLength="59" lengthAdjust="spacingAndGlyphs">244</text>
<path d="M1048.9 122.3L1438.8 122.3" stroke-width="1.9"/>
<polygon points="1048.9,122.3 1095.9,129.1 1084.6,122.3 1095.9,115.5" fill="#000" stroke-width="0.8"/>
<polygon points="1438.8,122.3 1391.8,115.5 1403,122.3 1391.8,129.1" fill="#000" stroke-width="0.8"/>
<text x="1244.5" y="111.5" font-family="'Liberation Sans', sans-serif" font-size="42" font-style="italic" fill="#000" stroke="none" text-anchor="middle" textLength="54" lengthAdjust="spacingAndGlyphs">196</text>
<path d="M1618 110L1618 335" stroke-width="1.9"/>
<path d="M2408.8 110L2408.8 1443.5" stroke-width="1.9"/>
<path d="M1618 123L2408.8 123" stroke-width="1.9"/>
<polygon points="1618,123 1665,129.8 1653.7,123 1665,116.2" fill="#000" stroke-width="0.8"/>
<polygon points="2408.8,123 2361.8,116.2 2373,123 2361.8,129.8" fill="#000" stroke-width="0.8"/>
<text x="2014.7" y="111" font-family="'Liberation Sans', sans-serif" font-size="42" font-style="italic" fill="#000" stroke="none" text-anchor="middle" textLength="59" lengthAdjust="spacingAndGlyphs">399</text>
<path d="M2106 165.8L2501.5 165.8" stroke-width="1.9"/>
<path d="M2489.2 165.8L2489.2 1138.3" stroke-width="1.9"/>
<polygon points="2489.2,165.8 2482.4,212.8 2489.2,201.5 2496.1,212.8" fill="#000" stroke-width="0.8"/>
<polygon points="2489.2,1138.3 2496.1,1091.3 2489.2,1102.6 2482.4,1091.3" fill="#000" stroke-width="0.8"/>
<text transform="translate(2477.5 652.5) rotate(-90)" x="-0.6" y="0" font-family="'Liberation Sans', sans-serif" font-size="42" font-style="italic" fill="#000" stroke="none" text-anchor="middle" textLength="50" lengthAdjust="spacingAndGlyphs">491</text>
<path d="M2147 633.8L2369.5 633.8" stroke-width="1.9"/>
<path d="M2357 633.8L2357 1138.3" stroke-width="1.9"/>
<polygon points="2357,633.8 2350.2,680.8 2357,669.5 2363.8,680.8" fill="#000" stroke-width="0.8"/>
<polygon points="2357,1138.3 2363.8,1091.3 2357,1102.6 2350.2,1091.3" fill="#000" stroke-width="0.8"/>
<text transform="translate(2346 886) rotate(-90)" x="0" y="0" font-family="'Liberation Sans', sans-serif" font-size="42" font-style="italic" fill="#000" stroke="none" text-anchor="middle" textLength="62" lengthAdjust="spacingAndGlyphs">255</text>
<path d="M2273.8 711L2273.8 1138.3" stroke-width="1.9"/>
<polygon points="2273.8,960 2266.9,1007 2273.8,995.7 2280.6,1007" fill="#000" stroke-width="0.8"/>
<polygon points="2273.8,1138.3 2280.6,1091.3 2273.8,1102.6 2266.9,1091.3" fill="#000" stroke-width="0.8"/>
<text transform="translate(2255 922.5) rotate(-90)" x="3" y="0" font-family="'Liberation Sans', sans-serif" font-size="42" font-style="italic" fill="#000" stroke="none" textLength="35" lengthAdjust="spacingAndGlyphs">90</text>
<text transform="translate(2255 871) rotate(-90)" x="5" y="-4" font-family="'Liberation Sans', sans-serif" font-size="40" font-style="italic" fill="#000" stroke="none">(</text>
<text transform="translate(2254 854) rotate(-90)" x="0" y="-3" font-family="'Liberation Sans', 'Noto Sans CJK SC', sans-serif" font-size="38" font-style="italic" fill="#000" stroke="none" textLength="114" lengthAdjust="spacingAndGlyphs">全关位置</text>
<text transform="translate(2255 743) rotate(-90)" x="0" y="-4" font-family="'Liberation Sans', sans-serif" font-size="40" font-style="italic" fill="#000" stroke="none">)</text>
<path d="M1938.3 1061.7L2116.7 1061.7" stroke-width="1.9"/>
<polygon points="1938.3,1061.7 1985.3,1068.5 1974,1061.7 1985.3,1054.9" fill="#000" stroke-width="0.8"/>
<polygon points="2116.7,1061.7 2069.7,1054.9 2081,1061.7 2069.7,1068.5" fill="#000" stroke-width="0.8"/>
<text x="2030" y="1050" font-family="'Liberation Sans', sans-serif" font-size="42" font-style="italic" fill="#000" stroke="none" text-anchor="middle" textLength="34" lengthAdjust="spacingAndGlyphs">90</text>
<path d="M1938.3 1040L1938.3 1098" stroke-width="1.9"/>
<path d="M2116.7 1040L2116.7 1098" stroke-width="1.9"/>
<path d="M2026.7 1086.7L2026.7 1148.3" stroke-width="1.9"/>
<path d="M1968.3 1138.3L1968.3 1223" stroke-width="1.9"/>
<path d="M2086.7 1138.3L2086.7 1223" stroke-width="1.9"/>
<path d="M1968.3 1212.3L2086.7 1212.3" stroke-width="1.9"/>
<polygon points="1968.3,1212.3 2015.3,1219.1 2004,1212.3 2015.3,1205.5" fill="#000" stroke-width="0.8"/>
<polygon points="2086.7,1212.3 2039.7,1205.5 2051,1212.3 2039.7,1219.1" fill="#000" stroke-width="0.8"/>
<text x="2029.3" y="1198" font-family="'Liberation Sans', sans-serif" font-size="42" font-style="italic" fill="#000" stroke="none" text-anchor="middle" textLength="54" lengthAdjust="spacingAndGlyphs">ø60</text>
<path d="M1928.3 1138.3L1928.3 1300" stroke-width="1.9"/>
<path d="M2126.7 1138.3L2126.7 1300" stroke-width="1.9"/>
<path d="M1928.3 1288.3L2126.7 1288.3" stroke-width="1.9"/>
<polygon points="1928.3,1288.3 1975.3,1295.1 1964,1288.3 1975.3,1281.5" fill="#000" stroke-width="0.8"/>
<polygon points="2126.7,1288.3 2079.7,1281.5 2091,1288.3 2079.7,1295.1" fill="#000" stroke-width="0.8"/>
<text x="2031" y="1277.2" font-family="'Liberation Sans', sans-serif" font-size="42" font-style="italic" fill="#000" stroke="none" text-anchor="middle" textLength="158" lengthAdjust="spacingAndGlyphs">ø100/ø125</text>
<path d="M1863.8 1095L1863.8 1370" stroke-width="1.9"/>
<path d="M2191.5 712.5L2191.5 1370" stroke-width="1.9"/>
<path d="M1863.8 1358L2191.5 1358" stroke-width="1.9"/>
<polygon points="1863.8,1358 1910.8,1364.8 1899.5,1358 1910.8,1351.2" fill="#000" stroke-width="0.8"/>
<polygon points="2191.5,1358 2144.5,1351.2 2155.8,1358 2144.5,1364.8" fill="#000" stroke-width="0.8"/>
<text x="2029" y="1346" font-family="'Liberation Sans', sans-serif" font-size="42" font-style="italic" fill="#000" stroke="none" text-anchor="middle" textLength="57" lengthAdjust="spacingAndGlyphs">165</text>
<path d="M2027.4 1385.8L2027.4 1443.5" stroke-width="1.9"/>
<path d="M2027.4 1430.4L2408.8 1430.4" stroke-width="1.9"/>
<polygon points="2027.4,1430.4 2074.4,1437.2 2063.1,1430.4 2074.4,1423.6" fill="#000" stroke-width="0.8"/>
<polygon points="2408.8,1430.4 2361.8,1423.6 2373,1430.4 2361.8,1437.2" fill="#000" stroke-width="0.8"/>
<text x="2217" y="1420" font-family="'Liberation Sans', sans-serif" font-size="42" font-style="italic" fill="#000" stroke="none" text-anchor="middle" textLength="55" lengthAdjust="spacingAndGlyphs">192</text>
<path d="M1321.8 978.8L1321.8 1197.5" stroke-width="1.9"/>
<polygon points="1321.8,1098.8 1328.5,1051.8 1321.8,1063 1315,1051.8" fill="#000" stroke-width="0.8"/>
<polygon points="1321.8,1138 1315,1185 1321.8,1173.7 1328.5,1185" fill="#000" stroke-width="0.8"/>
<path d="M1285 1098.8L1334.5 1098.8" stroke-width="1.9"/>
<path d="M1285 1138L1334.5 1138" stroke-width="1.9"/>
<text transform="translate(1311 1008.8) rotate(-90)" x="-0.8" y="0" font-family="'Liberation Sans', sans-serif" font-size="42" font-style="italic" fill="#000" stroke="none" text-anchor="middle" textLength="37" lengthAdjust="spacingAndGlyphs">20</text>
<path d="M1185.8 1088L1185.8 1227" stroke-width="1.9"/>
<path d="M1049.2 1214.5L1185.8 1214.5" stroke-width="1.9"/>
<polygon points="1049.2,1214.5 1096.2,1221.3 1085,1214.5 1096.2,1207.7" fill="#000" stroke-width="0.8"/>
<polygon points="1185.8,1214.5 1138.8,1207.7 1150,1214.5 1138.8,1221.3" fill="#000" stroke-width="0.8"/>
<text x="1119.6" y="1203.8" font-family="'Liberation Sans', sans-serif" font-size="42" font-style="italic" fill="#000" stroke="none" text-anchor="middle" textLength="39" lengthAdjust="spacingAndGlyphs">69</text>
<path d="M730.5 700L730.5 776.2" stroke-width="1.9"/>
<polygon points="730.5,685 723.7,732 730.5,720.7 737.3,732" fill="#000" stroke-width="0.8"/>
<text x="702.5" y="767" font-family="'Liberation Sans', sans-serif" font-size="42" font-style="italic" fill="#000" stroke="none" text-anchor="middle" textLength="23" lengthAdjust="spacingAndGlyphs">H</text>
<circle cx="730.5" cy="1002" r="40" fill="none" stroke-width="2.1"/>
<circle cx="730.5" cy="1002" r="15" fill="none" stroke-width="1.9"/>
<polygon points="744.8,1002 737.6,1014.3 723.4,1014.3 716.2,1002 723.4,989.7 737.6,989.7" stroke-width="1.8"/>
<path d="M640 966.8H686.2Q696.2 966.8 701.2 958.5A52.5 52.5 0 0 1 759.8 958.5Q764.8 966.8 774.8 966.8H822.5M640 1038H686.2Q696.2 1038 701.2 1045.5A52.5 52.5 0 0 0 759.8 1045.5Q764.8 1038 774.8 1038H822.5" fill="none" stroke-width="2.1"/>
<path d="M677.5 966.8L677.5 1038" stroke-width="1.9"/>
<path d="M783.2 966.8L783.2 1038" stroke-width="1.9"/>
<ellipse cx="639.6" cy="1002.5" rx="31.8" ry="35.8" fill="none" stroke-width="2.5"/>
<path d="M645 967.5A31.8 35.8 0 0 1 645 1037.5M648 968.2A31 35.2 0 0 1 648 1036.8" fill="none" stroke-width="1.5"/>
<circle cx="637.5" cy="1002.2" r="14.8" fill="none" stroke-width="1.9"/>
<circle cx="637.5" cy="1002.2" r="13" fill="none" stroke-width="1.5"/>
<polygon points="646.4,1004.9 639.2,1012.2 629.3,1009.5 626.6,999.6 633.8,992.3 643.7,995" stroke-width="1.6"/>
<path d="M632.5 994L634 1010.5M632.5 994L639.5 992M634 1010.5L642.5 1012.5" fill="none" stroke-width="1.4"/>
<ellipse cx="822.4" cy="1002.5" rx="30.2" ry="35.8" fill="none" stroke-width="2.5"/>
<path d="M817.5 967.5A30.2 35.8 0 0 0 817.5 1037.5M814.5 968.5A30 35 0 0 0 814.5 1036.5" fill="none" stroke-width="1.5"/>
<circle cx="823" cy="1002" r="14.5" fill="none" stroke-width="1.9"/>
<circle cx="823" cy="1002" r="12.5" fill="none" stroke-width="1.5"/>
<polygon points="833.7,1004.6 826.6,1011.7 816.9,1009.1 814.3,999.4 821.4,992.3 831.1,994.9" stroke-width="1.6"/>
<path d="M828 994L826.5 1010.5M828 994L821 992M826.5 1010.5L819 1012.5" fill="none" stroke-width="1.4"/>
<path d="M730.5 1002L708.8 1101.2H595" fill="none" stroke-width="1.9"/>
<polygon points="730.5,1002 713.8,1046.5 722.9,1036.9 727.1,1049.4" fill="#000" stroke-width="0.8"/>
<path d="M820.8 1002L851.2 1101.2H1032.5" fill="none" stroke-width="1.9"/>
<polygon points="820.8,1002 828.1,1048.9 831.2,1036.1 841.1,1044.9" fill="#000" stroke-width="0.8"/>
<text x="616" y="1098.8" font-family="'Liberation Sans', sans-serif" font-size="42" font-style="italic" fill="#000" stroke="none" textLength="88" lengthAdjust="spacingAndGlyphs">NPT1"</text>
<text x="855.8" y="1094.5" font-family="'Liberation Sans', sans-serif" font-size="42" font-style="italic" fill="#000" stroke="none" textLength="171" lengthAdjust="spacingAndGlyphs">2-NPT3/4"</text>
<text x="636" y="924" font-family="'Liberation Sans', sans-serif" font-size="42" font-style="italic" fill="#000" stroke="none" textLength="22" lengthAdjust="spacingAndGlyphs">H</text>
<text x="657" y="920" font-family="'Liberation Sans', 'Noto Sans CJK SC', sans-serif" font-size="36" font-style="italic" fill="#000" stroke="none" textLength="181" lengthAdjust="spacingAndGlyphs">向（电气接口）</text>
<path d="M1056.6 1681.5H1127.3M1244.6 1681.5H1316.7Q1320.8 1681.5 1320.8 1685.7V1796.8Q1320.8 1801 1316.7 1801H1247.1L1243 1802.1M1125.7 1801H1056.6Q1052.5 1801 1052.5 1796.8V1685.7Q1052.5 1681.5 1056.6 1681.5M1125.7 1801L1129.8 1802.1" fill="none" stroke-width="2.5"/>
<path d="M1127.3 1681.5A83.7 83.7 0 0 1 1244.6 1681.5M1129.8 1802.1A83.7 83.7 0 0 0 1243 1802.1" fill="none" stroke-width="2.5"/>
<circle cx="1186.4" cy="1741.1" r="30.8" fill="none" stroke-width="2.5"/>
<path d="M1193.1 1775.3A34.9 34.9 0 1 1 1220.7 1747.7" fill="none" stroke-width="1.8"/>
<path d="M1040 1741.1H1332.8" stroke-width="1.8"/>
<path d="M1186.4 1645.7V1837.1" stroke-width="1.8" stroke-dasharray="70 6 6 6"/>
<path d="M1097.1 1669V1812.9M1276.3 1669V1812.9" stroke-width="1.8" stroke-dasharray="50 6 6 6"/>
<path d="M1064.4 1683.5H1130.3V1716.8H1064.4Z" fill="none" stroke-width="2.8"/>
<path d="M1076.6 1717.4V1741.1M1118.2 1717.4V1741.1" fill="none" stroke-width="2.2"/>
<path d="M1079.4 1741.1V1801M1081.9 1741.1V1801M1112.7 1741.1V1801M1115.2 1741.1V1801" fill="none" stroke-width="2"/>
<path d="M1243.5 1683.5H1309.4V1716.8H1243.5Z" fill="none" stroke-width="2.8"/>
<path d="M1255.6 1717.4V1741.1M1297.2 1717.4V1741.1" fill="none" stroke-width="2.2"/>
<path d="M1258.5 1741.1V1801M1260.9 1741.1V1801M1291.7 1741.1V1801M1294.2 1741.1V1801" fill="none" stroke-width="2"/>
<clipPath id="hu"><path d="M1052.5 1681.5H1127.3A83.7 83.7 0 0 1 1244.6 1681.5H1320.8V1741.1H1297.1V1717.4H1309.5V1683.5H1243.5V1717.4H1255.5V1741.1H1221.3A34.9 34.9 0 0 0 1151.5 1741.1H1118.2V1717.4H1130.3V1683.5H1064.4V1717.4H1076.6V1741.1H1052.5Z"/></clipPath>
<clipPath id="hl"><path d="M1052.5 1741.1H1079.4V1801H1052.5ZM1115.2 1741.1H1151.5A34.9 34.9 0 0 0 1221.3 1741.1H1258V1801H1247.1L1243 1802.1A83.7 83.7 0 0 1 1129.8 1802.1L1125.7 1801H1115.2ZM1293.7 1741.1H1320.8V1801H1293.7Z"/></clipPath>
<path clip-path="url(#hu)" d="M880.2 1741.1L974.8 1646.6M902.4 1741.1L996.9 1646.6M924.5 1741.1L1019 1646.6M946.6 1741.1L1041.1 1646.6M968.8 1741.1L1063.3 1646.6M990.9 1741.1L1085.4 1646.6M1013 1741.1L1107.5 1646.6M1035.2 1741.1L1129.7 1646.6M1057.3 1741.1L1151.8 1646.6M1079.4 1741.1L1173.9 1646.6M1101.5 1741.1L1196.1 1646.6M1123.7 1741.1L1218.2 1646.6M1145.8 1741.1L1240.3 1646.6M1167.9 1741.1L1262.4 1646.6M1190.1 1741.1L1284.6 1646.6M1212.2 1741.1L1306.7 1646.6M1234.3 1741.1L1328.8 1646.6M1256.5 1741.1L1351 1646.6M1278.6 1741.1L1373.1 1646.6M1300.7 1741.1L1395.2 1646.6M1322.8 1741.1L1417.4 1646.6M1345 1741.1L1439.5 1646.6" stroke-width="1.9"/>
<path clip-path="url(#hl)" d="M913.5 1741.1L1013.4 1840.9M931.3 1741.1L1031.2 1840.9M949.1 1741.1L1049 1840.9M966.9 1741.1L1066.8 1840.9M984.7 1741.1L1084.6 1840.9M1002.5 1741.1L1102.4 1840.9M1020.3 1741.1L1120.2 1840.9M1038.2 1741.1L1138 1840.9M1056 1741.1L1155.8 1840.9M1073.8 1741.1L1173.6 1840.9M1091.6 1741.1L1191.4 1840.9M1109.4 1741.1L1209.2 1840.9M1127.2 1741.1L1227 1840.9M1145 1741.1L1244.8 1840.9M1162.8 1741.1L1262.6 1840.9M1180.6 1741.1L1280.4 1840.9M1198.4 1741.1L1298.2 1840.9M1216.2 1741.1L1316 1840.9M1234 1741.1L1333.8 1840.9M1251.8 1741.1L1351.6 1840.9M1269.6 1741.1L1369.4 1840.9M1287.4 1741.1L1387.2 1840.9M1305.2 1741.1L1405 1840.9M1323 1741.1L1422.8 1840.9M1340.8 1741.1L1440.6 1840.9M1358.6 1741.1L1458.5 1840.9" stroke-width="1.9"/>
<path d="M1143.1 1827.1L1245.5 1624.6H1278.8" fill="none" stroke-width="1.8"/>
<polygon points="1202.2,1709.9 1229.4,1671 1218.3,1678 1217.3,1664.9" fill="#000" stroke-width="0.8"/>
<polygon points="1170.6,1772.3 1143.4,1811.1 1154.5,1804.1 1155.5,1817.3" fill="#000" stroke-width="0.8"/>
<text x="1270.5" y="1613" font-family="'Liberation Sans', sans-serif" font-size="42" font-style="italic" fill="#000" stroke="none" text-anchor="middle" textLength="22" lengthAdjust="spacingAndGlyphs">M</text>
<circle cx="2027.7" cy="1797.7" r="99.5" fill="none" stroke-width="2.4"/>
<circle cx="2027.7" cy="1797.7" r="59.4" fill="none" stroke-width="2.4"/>
<circle cx="2027.7" cy="1797.7" r="79.5" stroke-width="2" stroke-dasharray="52 8 9 8"/>
<circle cx="2027.7" cy="1718.5" r="10.3" fill="none" stroke-width="2.2"/>
<circle cx="2027.7" cy="1876.9" r="10.3" fill="none" stroke-width="2.2"/>
<path d="M1918.3 1797.7H2137.6M2027.7 1688.3V1907.9" stroke-width="1.8" stroke-dasharray="42 7 7 7"/>
<path d="M1964 1748.2L2091.3 1689.4H2220.7" fill="none" stroke-width="1.8"/>
<polygon points="2037.1,1714.2 2082.6,1700.7 2069.5,1699.2 2076.9,1688.3" fill="#000" stroke-width="0.8"/>
<polygon points="2018.4,1722.9 1972.8,1736.4 1985.9,1737.8 1978.5,1748.7" fill="#000" stroke-width="0.8"/>
<path d="M1895 1842.7L2158.7 1753.1H2226.1" fill="none" stroke-width="1.8"/>
<polygon points="2103.1,1772.2 2149.7,1763.5 2136.9,1760.7 2145.4,1750.6" fill="#000" stroke-width="0.8"/>
<polygon points="1952.4,1823.3 1905.7,1832 1918.6,1834.8 1910.1,1844.8" fill="#000" stroke-width="0.8"/>
<text x="2103" y="1678.3" font-family="'Liberation Sans', sans-serif" font-size="42" font-style="italic" fill="#000" stroke="none" textLength="117" lengthAdjust="spacingAndGlyphs">2-ø10.5</text>
<text x="2173" y="1741.5" font-family="'Liberation Sans', sans-serif" font-size="42" font-style="italic" fill="#000" stroke="none" textLength="54" lengthAdjust="spacingAndGlyphs">ø80</text>
<text x="1355" y="1989.5" font-family="'Liberation Serif', 'Noto Serif CJK SC', serif" font-size="49" fill="#000" stroke="none" textLength="196" lengthAdjust="spacingAndGlyphs">最大行程</text>
<text x="1551" y="1989.5" font-family="'Liberation Serif', 'Noto Serif CJK SC', serif" font-size="49" fill="#000" stroke="none" textLength="97" lengthAdjust="spacingAndGlyphs">25mm</text>
<text x="1268.8" y="2056" font-family="'Liberation Serif', 'Noto Serif CJK SC', serif" font-size="49" fill="#000" stroke="none" textLength="293" lengthAdjust="spacingAndGlyphs">阀杆连接尺寸</text>
<text x="1562.2" y="2056" font-family="'Liberation Serif', 'Noto Serif CJK SC', serif" font-size="49" fill="#000" stroke="none" textLength="22.4" lengthAdjust="spacingAndGlyphs">M</text>
<text x="1585.6" y="2056" font-family="'Liberation Serif', 'Noto Serif CJK SC', serif" font-size="49" fill="#000" stroke="none" textLength="146.5" lengthAdjust="spacingAndGlyphs">请选择</text>
</svg>
</body></html>
